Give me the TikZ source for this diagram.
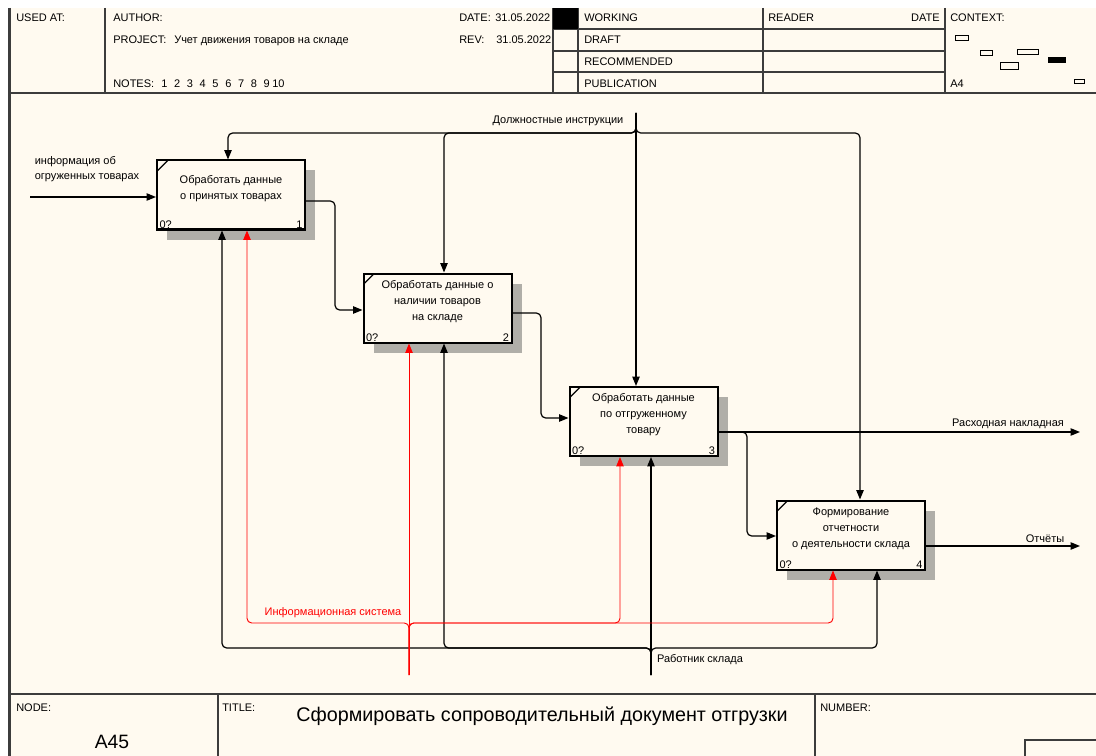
\documentclass[tikz,border=0pt]{standalone}
\usepackage{fontspec}
\setmainfont{Liberation Sans}
\usetikzlibrary{arrows.meta,shadows}
\definecolor{cream}{RGB}{255,250,240}
\definecolor{rule}{RGB}{60,60,60}
\definecolor{hatch}{RGB}{176,174,168}
\newcommand{\smallfont}{\fontsize{8.25}{11.25}\selectfont}
\newcommand{\boxfont}{\fontsize{8.25}{12}\selectfont}

\tikzset{
  actbox/.style={draw, line width=1.5pt, fill=cream,
    minimum width=111pt, minimum height=51.75pt, inner sep=0pt,
    general shadow={fill=hatch, shadow xshift=7.5pt, shadow yshift=-7.5pt},
    path picture={\draw[line width=0.9pt]
      ([yshift=-8pt]path picture bounding box.north west) --
      ([xshift=8pt]path picture bounding box.north west);}},
  acttext/.style={font=\boxfont, align=center, inner sep=0pt},
  corner/.style={font=\boxfont, inner xsep=2.5pt, inner ysep=1.5pt},
  flow/.style={line width=0.9pt, rounded corners=3.5pt,
    -{Triangle[length=7pt,width=5.5pt]}},
  infoflow/.style={flow, red, line width=0.7pt},
  arrlabel/.style={font=\smallfont, inner sep=0pt},
  frame/.style={rule, line width=0.8pt},
  hdr/.style={font=\smallfont, anchor=base west, inner sep=0pt},
}

\begin{document}
\begin{tikzpicture}[x=0.75pt, y=-0.75pt]
  \useasboundingbox (0,0) rectangle (1096,756);
  \fill[cream] (8,8) rectangle (1096,756);

  % Header
  \draw[rule, line width=2.2pt] (9.5,8) -- (9.5,756);
  \draw[frame, line width=1.5pt] (9,93) -- (1096,93);
  \draw[frame] (105,8) -- (105,93) (553,8) -- (553,93) (578,8) -- (578,93)
    (763,8) -- (763,93) (945,8) -- (945,93);
  \draw[frame] (553,29) -- (945,29) (553,51) -- (945,51) (553,72) -- (945,72);
  \fill[black] (553,8) rectangle (578,29);
  \node[hdr] (usedat) at (16,22) {USED AT:};
  \node[hdr] (author) at (113,22) {AUTHOR:};
  \node[hdr] (project) at (113,44) {PROJECT:};
  \node[hdr] (projname) at (174,44) {Учет движения товаров на складе};
  \node[hdr] (notes) at (113,88) {NOTES:};
  \foreach \n in {1,...,9}
    \node[hdr] (note\n) at ({148.2+12.8*\n},88) {\n};
  \node[hdr] (note10) at (272,88) {10};
  \node[hdr] (date) at (459,22) {DATE:};
  \node[hdr] (dateval) at (495,22) {31.05.2022};
  \node[hdr] (rev) at (459,44) {REV:};
  \node[hdr] (revval) at (496,44) {31.05.2022};
  \node[hdr] (working) at (584,22) {WORKING};
  \node[hdr] (draft) at (584,44) {DRAFT};
  \node[hdr] (recommended) at (584,66) {RECOMMENDED};
  \node[hdr] (publication) at (584,88) {PUBLICATION};
  \node[hdr] (reader) at (768,22) {READER};
  \node[hdr, anchor=base east] (rdate) at (940,22) {DATE};
  \node[hdr] (context) at (950,22) {CONTEXT:};
  \node[hdr] (sheet) at (950,88) {A4};
  \draw[line width=0.6pt] (955,35) rectangle (968,40) (980,50) rectangle (992,55)
    (1017,49) rectangle (1038,54) (1000,62) rectangle (1018,69)
    (1074,79) rectangle (1084,83);
  \fill[black] (1048,57) rectangle (1066,63);

  % Activities
  \node[actbox, label={[corner, anchor=south west]south west:0?},
    label={[corner, anchor=south east]south east:1}] (b1) at (231,195) {};
  \node[acttext] (t1) at ([yshift=4.8pt]b1.center) {Обработать данные\\о принятых товарах};
  \node[actbox, label={[corner, anchor=south west]south west:0?},
    label={[corner, anchor=south east]south east:2}] (b2) at (437.5,308) {};
  \node[acttext] (t2) at ([yshift=4.8pt]b2.center) {Обработать данные о\\наличии товаров\\на складе};
  \node[actbox, label={[corner, anchor=south west]south west:0?},
    label={[corner, anchor=south east]south east:3}] (b3) at (643.5,421.5) {};
  \node[acttext] (t3) at ([yshift=4.8pt]b3.center) {Обработать данные\\по отгруженному\\товару};
  \node[actbox, label={[corner, anchor=south west]south west:0?},
    label={[corner, anchor=south east]south east:4}] (b4) at (851,535) {};
  \node[acttext] (t4) at ([yshift=4.8pt]b4.center) {Формирование\\отчетности\\о деятельности склада};

  % Controls
  \coordinate (ctl) at (636,113);
  \draw[flow] (ctl) -- (ctl |- b3.north);
  \draw[flow] (ctl) |- (228,133) -- (228,0 |- b1.north);
  \draw[flow] (ctl) |- (444,133) -- (444,0 |- b2.north);
  \draw[flow] (ctl) |- (860,133) -- (860,0 |- b4.north);
  \node[arrlabel] (ctltext) at (558,121) {Должностные инструкции};

  % Mechanisms
  \coordinate (mech) at (651,675);
  \draw[flow] (mech) -- (mech |- b3.south);
  \draw[flow] (mech) |- (222,648) -- (222,0 |- b1.south);
  \draw[flow] (mech) |- (444,648) -- (444,0 |- b2.south);
  \draw[flow] (mech) |- (877,648) -- (877,0 |- b4.south);
  \node[arrlabel] (mechtext) at (700,660) {Работник склада};

  \coordinate (info) at (409,675);
  \draw[infoflow] (info) -- (info |- b2.south);
  \draw[infoflow] (info) |- (247,623) -- (247,0 |- b1.south);
  \draw[infoflow] (info) |- (620,623) -- (620,0 |- b3.south);
  \draw[infoflow] (info) |- (833,623) -- (833,0 |- b4.south);
  \node[arrlabel, red] (infotext) at (333,613) {Информационная система};

  % Inputs and outputs
  \coordinate (in1) at (30,197);
  \draw[flow] (in1) -- (in1 -| b1.west);
  \node[arrlabel, align=left] (intext) at (87,169.5) {информация об\\огруженных товарах};
  \draw[flow] (b1.east |- 0,201) -| (335,310) -- (b2.west |- 0,310);
  \draw[flow] (b2.east |- 0,313) -| (541,418) -- (b3.west |- 0,418);
  \coordinate (out3) at (1080,432);
  \coordinate (out4) at (1080,546);
  \draw[flow] (b3.east |- out3) -- (out3);
  \draw[flow] (b3.east |- out3) -| (747,536) -- (b4.west |- 0,536);
  \draw[flow] (b4.east |- out4) -- (out4);
  \node[arrlabel] (out3text) at (1008,424) {Расходная накладная};
  \node[arrlabel] (out4text) at (1045,539) {Отчёты};

  % Footer
  \draw[frame, line width=1.5pt] (9,694) -- (1096,694);
  \draw[frame] (218,694) -- (218,756) (815,694) -- (815,756);
  \draw[frame] (1025,756) -- (1025,740) -- (1096,740);
  \node[hdr] (nodelbl) at (16,711) {NODE:};
  \node[font=\fontsize{14.5}{16}\selectfont, inner sep=0pt] (nodeid) at (112,742) {A45};
  \node[hdr] (titlelbl) at (222,711) {TITLE:};
  \node[font=\fontsize{14.8}{16}\selectfont, inner sep=0pt] (titletext) at (542,716)
    {Сформировать сопроводительный документ отгрузки};
  \node[hdr] (numberlbl) at (820,711) {NUMBER:};
\end{tikzpicture}
\end{document}
